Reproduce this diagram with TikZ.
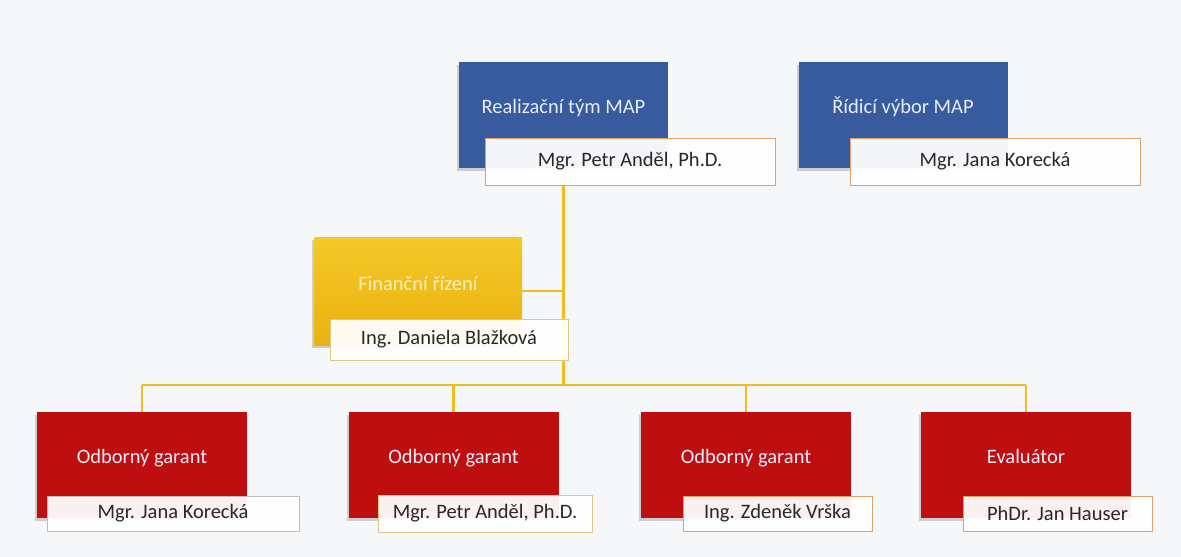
\documentclass[tikz,border=0pt]{standalone}
\usepackage{fontspec}
\setmainfont{Carlito}
\usetikzlibrary{shadows}
\definecolor{bg}{RGB}{245,247,249}
\definecolor{mapblue}{RGB}{56,90,158}
\definecolor{goldA}{RGB}{244,200,40}
\definecolor{goldB}{RGB}{234,178,16}
\definecolor{mapred}{RGB}{190,14,16}
\definecolor{linegold}{RGB}{242,190,30}
\definecolor{orangeedge}{RGB}{226,160,100}
\definecolor{paleedge}{RGB}{220,200,130}
\definecolor{greyedge}{RGB}{190,190,190}
\definecolor{nametext}{RGB}{40,40,40}
\definecolor{titletext}{RGB}{232,238,248}
\definecolor{fintext}{RGB}{252,240,190}
\tikzset{
  shad/.style={drop shadow={shadow xshift=-2pt,shadow yshift=-3pt,opacity=0.35}},
  bluebox/.style={rectangle,fill=mapblue,minimum width=209pt,minimum height=106pt,inner sep=0pt,shad},
  redbox/.style={rectangle,fill=mapred,minimum width=210pt,minimum height=106pt,inner sep=0pt,shad},
  goldbox/.style={rectangle,top color=goldA,bottom color=goldB,minimum width=208pt,minimum height=108pt,inner sep=0pt,shad},
  titlefont/.style={font=\fontsize{20.5}{24}\selectfont,text height=14pt,text depth=4pt,inner sep=0pt},
  title/.style={label={[yshift=7pt,text=titletext,titlefont]center:#1}},
  fintitle/.style={label={[yshift=6pt,text=fintext,titlefont]center:#1}},
  namebox/.style={rectangle,draw=orangeedge,line width=0.9pt,fill=white,fill opacity=0.94,text opacity=1,text=nametext,font=\fontsize{20.5}{24}\selectfont,inner sep=0pt},
  conn/.style={draw=linegold,line width=2.6pt}
}
\begin{document}
\begin{tikzpicture}[x=1pt,y=-1pt]
\fill[bg] (0,0) rectangle (1181,557);
\useasboundingbox (0,0) rectangle (1181,557);
% nodes
\node[bluebox,title={Realizační tým MAP}] (rt) at (563.5,115) {};
\node[bluebox,title={Řídicí výbor MAP}] (rv) at (903,115) {};
\node[goldbox,fintitle={Finanční řízení}] (fin) at (418,291) {};
\node[redbox,title={Odborný garant}] (g1) at (142,465) {};
\node[redbox,title={Odborný garant}] (g2) at (453.5,465) {};
\node[redbox,title={Odborný garant}] (g3) at (746,465) {};
\node[redbox,title={Evaluátor}] (g4) at (1026,465) {};
\coordinate (bus) at (563,385);
% connectors
\draw[conn] (rt.south) -- (rt |- bus);
\draw[conn] (fin.east) -- (fin.east -| rt);
\draw[conn] (g1 |- bus) -- (g4 |- bus);
\draw[conn] (g1 |- bus) -- (g1.north);
\draw[conn] (g2 |- bus) -- (g2.north);
\draw[conn] (g3 |- bus) -- (g3.north);
\draw[conn] (g4 |- bus) -- (g4.north);
% name boxes
\node[namebox,minimum width=290pt,minimum height=47pt] (rtn) at (630,161.5) {Mgr. Petr Anděl, Ph.D.};
\node[namebox,minimum width=290pt,minimum height=47pt] (rvn) at (995,161.5) {Mgr. Jana Korecká};
\node[namebox,draw=paleedge,minimum width=238pt,minimum height=41pt] (finn) at (449,339.5) {Ing. Daniela Blažková};
\node[namebox,draw=greyedge,minimum width=252pt,minimum height=35pt] (g1n) at (173,513.5) {Mgr. Jana Korecká};
\node[namebox,draw=paleedge,minimum width=214pt,minimum height=37pt] (g2n) at (485,513.5) {Mgr. Petr Anděl, Ph.D.};
\node[namebox,minimum width=189pt,minimum height=35pt] (g3n) at (777.5,513.5) {Ing. Zdeněk Vrška};
\node[namebox,minimum width=189pt,minimum height=35pt] (g4n) at (1057.5,513.5) {PhDr. Jan Hauser};
\end{tikzpicture}
\end{document}
